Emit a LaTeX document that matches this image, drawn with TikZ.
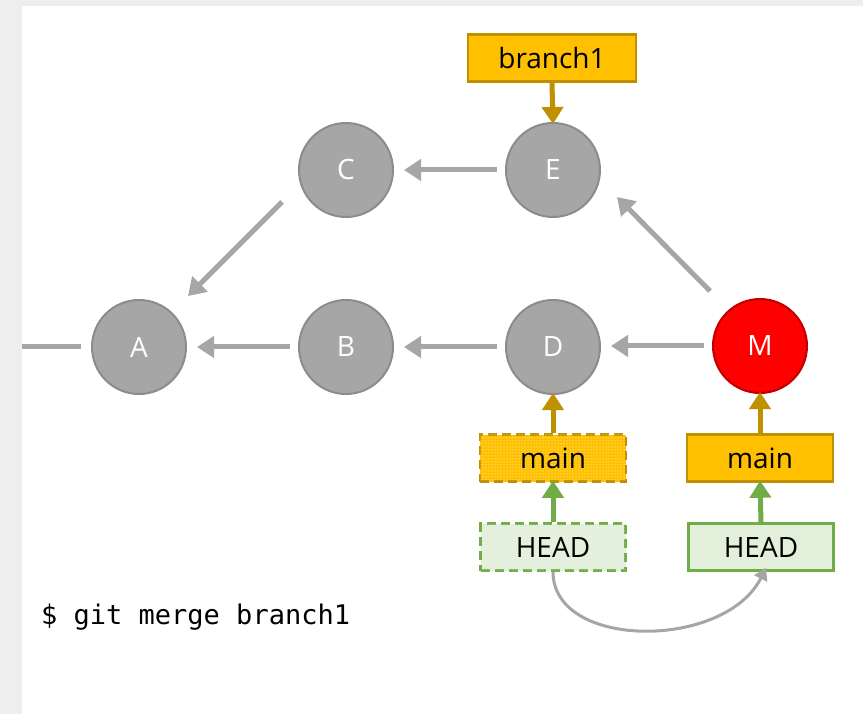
\documentclass[tikz,border=0pt]{standalone}
\usepackage{fontspec}
\setmainfont{Open Sans}
\setmonofont{DejaVu Sans Mono}
\usetikzlibrary{arrows.meta,patterns}
\definecolor{cgray}{HTML}{A6A6A6}
\definecolor{cgrayb}{HTML}{8C8C8C}
\definecolor{cred}{HTML}{FF0000}
\definecolor{credb}{HTML}{C00000}
\definecolor{cgold}{HTML}{FFC000}
\definecolor{cgoldb}{HTML}{BF9000}
\definecolor{cgreen}{HTML}{E2EFDA}
\definecolor{cgreenb}{HTML}{70AD47}
\definecolor{cframe}{HTML}{EEEEEE}
\begin{document}
\begin{tikzpicture}[x=1pt,y=-1pt,
  commit/.style={circle,draw=cgrayb,line width=2pt,fill=cgray,minimum size=94pt,inner sep=0pt,text=white,font=\fontsize{28}{28}\selectfont},
  mergec/.style={commit,fill=cred,draw=credb},
  refbox/.style={draw=cgoldb,line width=2.5pt,fill=cgold,minimum width=146pt,minimum height=47pt,inner sep=0pt,font=\fontsize{28}{28}\selectfont},
  headbox/.style={draw=cgreenb,line width=2.5pt,fill=cgreen,minimum width=145pt,minimum height=47pt,inner sep=0pt,font=\fontsize{28}{28}\selectfont},
  olddash/.style={dash pattern=on 9pt off 5pt},
  garrow/.style={draw=cgray,line width=5pt,-{Triangle[width=21pt,length=17pt]}},
  goldarrow/.style={draw=cgoldb,line width=5pt,-{Triangle[width=21pt,length=17pt]}},
  greenarrow/.style={draw=cgreenb,line width=5pt,-{Triangle[width=21pt,length=17pt]}},
  movearrow/.style={draw=cgray,line width=3pt,-{Triangle[width=14pt,length=12pt]}}
]
\useasboundingbox (0,0) rectangle (863,714);
\fill[cframe] (0,0) rectangle (863,714);
\fill[white] (22,6) rectangle (863,714);

\node[commit] (A) at (139,347) {A};
\node[commit] (B) at (346,347) {B};
\node[commit] (C) at (346,170) {C};
\node[commit] (D) at (553,347) {D};
\node[commit] (E) at (553,170) {E};
\node[mergec] (M) at (760,346) {M};

\node[refbox,minimum width=168pt] (br1) at (552,58) {branch1};
\node[refbox,olddash,postaction={pattern=dots,pattern color=white}] (main1) at (553,458) {main};
\node[refbox] (main2) at (760,458) {main};
\node[headbox,olddash,postaction={pattern=dots,pattern color=white}] (head1) at (553,547) {HEAD};
\node[headbox] (head2) at (761,547) {HEAD};

\node[anchor=west,font=\ttfamily\fontsize{27}{27}\selectfont,inner sep=0pt] (cmd) at (41,617) {\$ git merge branch1};

\coordinate (start) at (22,347);
\draw[draw=cgray,line width=5pt] (start) -- ([xshift=-10pt]A.west);

\draw[garrow] ([xshift=-8pt]B.west) -- ([xshift=10pt]A.east);
\draw[garrow] ([xshift=-8pt]D.west) -- ([xshift=10pt]B.east);
\draw[garrow] ([xshift=-8pt]M.west) -- ([xshift=10pt]D.east |- M.west);
\draw[garrow] ([xshift=-8pt]E.west) -- ([xshift=10pt]C.east);
\draw[garrow] ([shift={(-64,32)}]C.center) -- ([shift={(49,-51)}]A.center);
\draw[garrow] ([shift={(-50,-55)}]M.center) -- ([shift={(64,27)}]E.center);

\draw[goldarrow] (br1.south) -- ([yshift=-2pt]E.north);
\draw[goldarrow] (main1.north) -- ([yshift=2pt]D.south);
\draw[goldarrow] (main2.north) -- ([yshift=2pt]M.south);
\draw[greenarrow] (head1.north) -- ([yshift=2pt]main1.south);
\draw[greenarrow] (head2.north) -- ([yshift=2pt]main2.south);

\draw[movearrow] (head1.south) .. controls (553,650) and (725,650) .. ([xshift=5pt,yshift=4pt]head2.south);
\end{tikzpicture}
\end{document}
